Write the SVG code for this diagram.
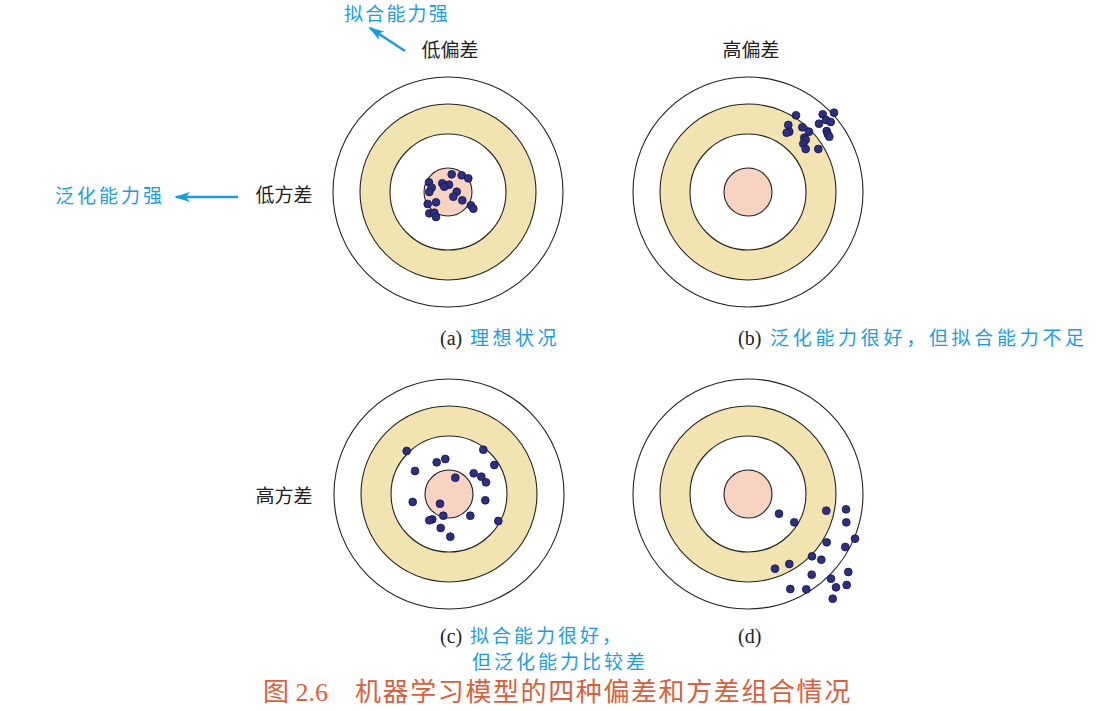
<svg xmlns="http://www.w3.org/2000/svg" width="1099" height="711" viewBox="0 0 1099 711">
<style>
.outer{fill:#fff;stroke:#222;stroke-width:1.1}
.ring{fill:#f2e4b0;stroke:#222;stroke-width:1.1}
.inner{fill:#fff;stroke:#222;stroke-width:1.1}
.bull{fill:#f9d3c2;stroke:#222;stroke-width:1.1}
.dot{fill:#2d2e86;stroke:#15163f;stroke-width:0.8}
.lbl{font-family:"Liberation Serif","Noto Sans CJK SC",serif;font-size:19px;fill:#222}
.blue{font-family:"Noto Sans CJK SC",sans-serif;font-size:19px;fill:#1a9de0;letter-spacing:3px}
.cap{font-family:"Liberation Serif","Noto Sans CJK SC",serif;font-size:20px;fill:#222}
.title{font-family:"Liberation Serif","Noto Sans CJK SC",serif;font-size:26px;fill:#d9603a}
.arr{stroke:#1a9de0;stroke-width:2.5;fill:none}
</style>
<defs>
<marker id="ah" viewBox="0 0 16 10" refX="14" refY="5" markerWidth="16" markerHeight="10" markerUnits="userSpaceOnUse" orient="auto">
<path d="M0,0 L16,5 L0,10 L4,5 Z" fill="#1a9de0"/>
</marker>
<g id="tgt">
<circle class="outer" cx="0" cy="0" r="115"/>
<circle class="ring" cx="0" cy="0" r="88"/>
<circle class="inner" cx="0" cy="0" r="58"/>
<circle class="bull" cx="0" cy="0" r="24"/>
</g>
</defs>
<g id="target-a">
<use href="#tgt" x="448" y="192"/>
<g class="dot">
<circle cx="451.7" cy="174.3" r="3.9"/><circle cx="461.7" cy="175.3" r="3.9"/><circle cx="468.3" cy="178.3" r="3.9"/>
<circle cx="429" cy="182.3" r="3.9"/><circle cx="442.3" cy="183.3" r="3.9"/><circle cx="449" cy="184.7" r="3.9"/>
<circle cx="444.3" cy="186.7" r="3.9"/><circle cx="431.7" cy="187.7" r="3.9"/><circle cx="429.3" cy="192" r="3.9"/>
<circle cx="456.7" cy="191.7" r="3.9"/><circle cx="453.3" cy="196.7" r="3.9"/><circle cx="462.3" cy="200.3" r="3.9"/>
<circle cx="436" cy="202.3" r="3.9"/><circle cx="427.7" cy="204" r="3.9"/><circle cx="471" cy="205.3" r="3.9"/>
<circle cx="473.3" cy="208.7" r="3.9"/><circle cx="429.3" cy="213.3" r="3.9"/><circle cx="434.3" cy="212.7" r="3.9"/>
<circle cx="436" cy="217" r="3.9"/>
</g>
</g>
<g id="target-b">
<use href="#tgt" x="748" y="192"/>
<g class="dot">
<circle cx="796" cy="115.3" r="3.9"/><circle cx="822.7" cy="114.3" r="3.9"/><circle cx="834" cy="112.7" r="3.9"/>
<circle cx="826" cy="120" r="3.9"/><circle cx="830.7" cy="122" r="3.9"/><circle cx="819" cy="123.7" r="3.9"/>
<circle cx="788.3" cy="125" r="3.9"/><circle cx="802.3" cy="127.3" r="3.9"/><circle cx="809" cy="131.7" r="3.9"/>
<circle cx="789.3" cy="131.7" r="3.9"/><circle cx="786.7" cy="132.7" r="3.9"/><circle cx="826.7" cy="131" r="3.9"/>
<circle cx="827.7" cy="134" r="3.9"/><circle cx="829.3" cy="136.7" r="3.9"/><circle cx="804.3" cy="137.7" r="3.9"/>
<circle cx="805.7" cy="139.7" r="3.9"/><circle cx="803.3" cy="143.7" r="3.9"/><circle cx="805.7" cy="149" r="3.9"/>
<circle cx="818.3" cy="149" r="3.9"/>
</g>
</g>
<g id="target-c">
<use href="#tgt" x="449" y="494"/>
<g class="dot">
<circle cx="406.7" cy="451" r="3.9"/><circle cx="436.7" cy="462.3" r="3.9"/><circle cx="445.3" cy="459" r="3.9"/>
<circle cx="483.3" cy="449.7" r="3.9"/><circle cx="494.3" cy="465" r="3.9"/><circle cx="415" cy="471" r="3.9"/>
<circle cx="455.3" cy="477.7" r="3.9"/><circle cx="473.7" cy="473.3" r="3.9"/><circle cx="481.3" cy="476.7" r="3.9"/>
<circle cx="486" cy="482.3" r="3.9"/><circle cx="412.7" cy="502" r="3.9"/><circle cx="440" cy="503.7" r="3.9"/>
<circle cx="485.3" cy="500.3" r="3.9"/><circle cx="443.3" cy="515.7" r="3.9"/><circle cx="470.3" cy="515.7" r="3.9"/>
<circle cx="432.3" cy="519.3" r="3.9"/><circle cx="429.3" cy="520.3" r="3.9"/><circle cx="498.3" cy="521" r="3.9"/>
<circle cx="440.7" cy="528" r="3.9"/><circle cx="450.3" cy="536.7" r="3.9"/>
</g>
</g>
<g id="target-d">
<use href="#tgt" x="748" y="494"/>
<g class="dot">
<circle cx="779" cy="513.7" r="3.9"/><circle cx="794.3" cy="522.3" r="3.9"/><circle cx="826.3" cy="510.7" r="3.9"/>
<circle cx="846" cy="509.3" r="3.9"/><circle cx="846.3" cy="522.3" r="3.9"/><circle cx="826.7" cy="542.3" r="3.9"/>
<circle cx="855" cy="538.7" r="3.9"/><circle cx="845.3" cy="547" r="3.9"/><circle cx="812" cy="556.3" r="3.9"/>
<circle cx="821.3" cy="559.7" r="3.9"/><circle cx="789.3" cy="564" r="3.9"/><circle cx="775" cy="568.7" r="3.9"/>
<circle cx="848.3" cy="572" r="3.9"/><circle cx="811.7" cy="574.7" r="3.9"/><circle cx="831" cy="578.7" r="3.9"/>
<circle cx="846.7" cy="585" r="3.9"/><circle cx="836" cy="587.3" r="3.9"/><circle cx="790.3" cy="589" r="3.9"/>
<circle cx="806.3" cy="589.3" r="3.9"/><circle cx="832.7" cy="598.7" r="3.9"/>
</g>
</g>
<g id="connectors">
<line class="arr" x1="405" y1="51" x2="370" y2="28" marker-end="url(#ah)"/>
<line class="arr" x1="238" y1="197" x2="176" y2="197" marker-end="url(#ah)"/>
</g>
<g id="labels">
<text class="blue" x="344" y="21" style="letter-spacing:2.2px">拟合能力强</text>
<text class="lbl" x="450" y="57" text-anchor="middle">低偏差</text>
<text class="lbl" x="751" y="57" text-anchor="middle">高偏差</text>
<text class="blue" x="55" y="203">泛化能力强</text>
<text class="lbl" x="284" y="202" text-anchor="middle">低方差</text>
<text class="lbl" x="284" y="503" text-anchor="middle">高方差</text>
<text class="cap" x="440" y="345">(a)</text>
<text class="blue" x="470" y="345" style="letter-spacing:3.5px">理想状况</text>
<text class="cap" x="738" y="345">(b)</text>
<text class="blue" x="770" y="345" style="letter-spacing:3.7px">泛化能力很好，但拟合能力不足</text>
<text class="cap" x="440" y="643">(c)</text>
<text class="blue" x="470" y="643">拟合能力很好，</text>
<text class="blue" x="472" y="669">但泛化能力比较差</text>
<text class="cap" x="738" y="643">(d)</text>
<text class="title" x="263" y="701">图 2.6</text>
<text class="title" x="355" y="701" style="letter-spacing:1.6px">机器学习模型的四种偏差和方差组合情况</text>
</g>
</svg>
